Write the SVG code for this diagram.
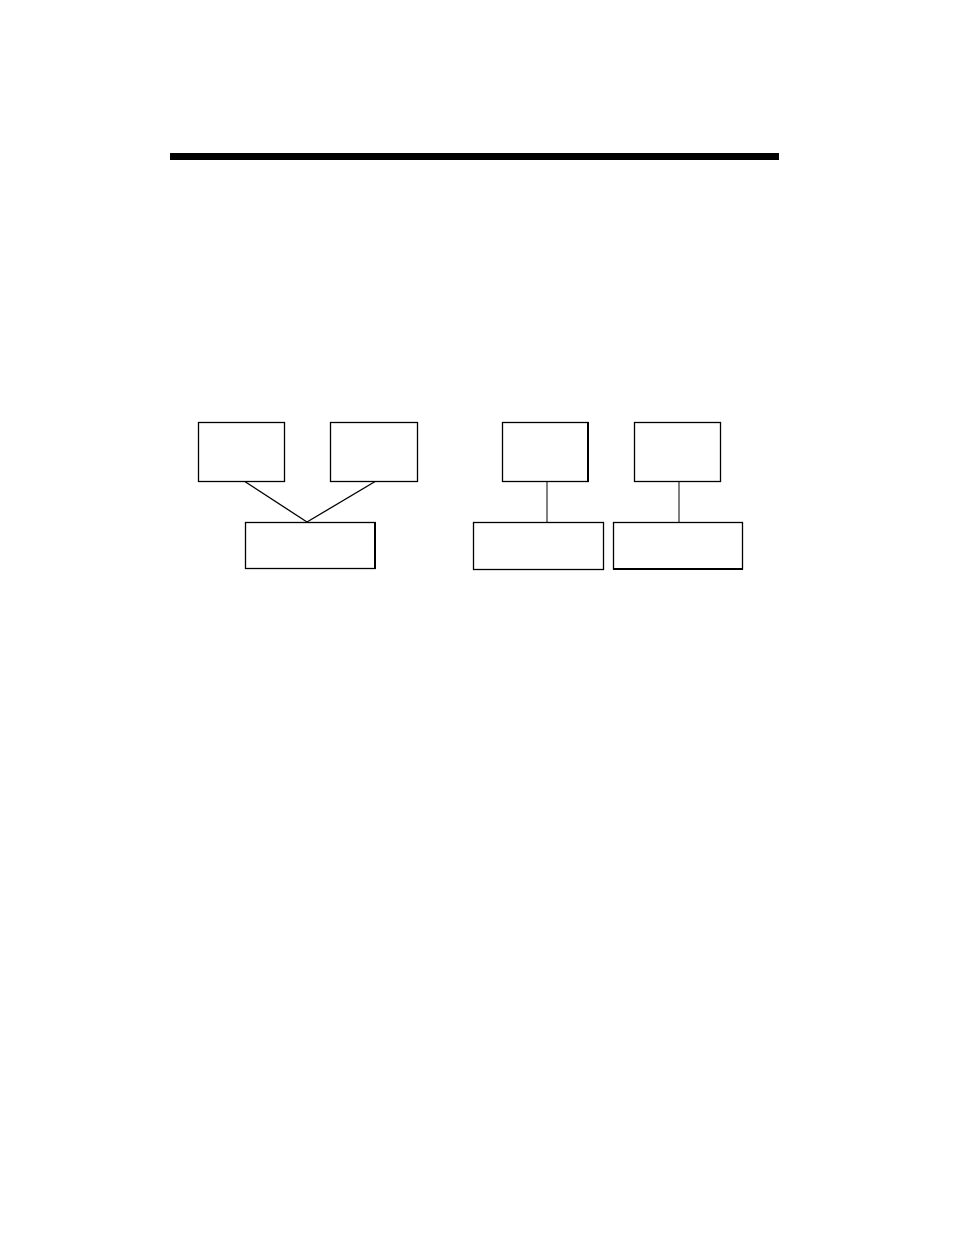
<svg xmlns="http://www.w3.org/2000/svg" width="954" height="1235" viewBox="0 0 954 1235">
<style>
.box{fill:#fff;stroke:#000;stroke-width:1.3}
.con{stroke:#000;stroke-width:1.3;fill:none}
.vcon{stroke:#555;stroke-width:1.5;fill:none}
</style>
<rect width="954" height="1235" fill="#fff"/>
<rect id="rule" x="170" y="153" width="609" height="7" fill="#000"/>
<g id="connectors">
<line class="con" x1="244" y1="481" x2="307" y2="522"/>
<line class="con" x1="376" y1="481" x2="307" y2="522"/>
<line class="vcon" x1="547" y1="481" x2="547" y2="522"/>
<line class="vcon" x1="679" y1="481" x2="679" y2="522"/>
</g>
<g id="n1"><rect class="box" x="198.5" y="422.5" width="86" height="59"/></g>
<g id="n2"><rect class="box" x="330.5" y="422.5" width="87" height="59"/></g>
<g id="n3"><rect class="box" x="245.5" y="522.5" width="129.5" height="46"/><line x1="375" y1="522" x2="375" y2="569" stroke="#000" stroke-width="2"/></g>
<g id="n4"><rect class="box" x="502.5" y="422.5" width="85.5" height="59"/><line x1="588" y1="422" x2="588" y2="482" stroke="#000" stroke-width="2"/></g>
<g id="n5"><rect class="box" x="634.5" y="422.5" width="86" height="59"/></g>
<g id="n6"><rect class="box" x="473.5" y="522.5" width="130" height="47"/></g>
<g id="n7"><rect class="box" x="613.5" y="522.5" width="129" height="46.5"/><line x1="613" y1="569" x2="743" y2="569" stroke="#000" stroke-width="2"/></g>
</svg>
